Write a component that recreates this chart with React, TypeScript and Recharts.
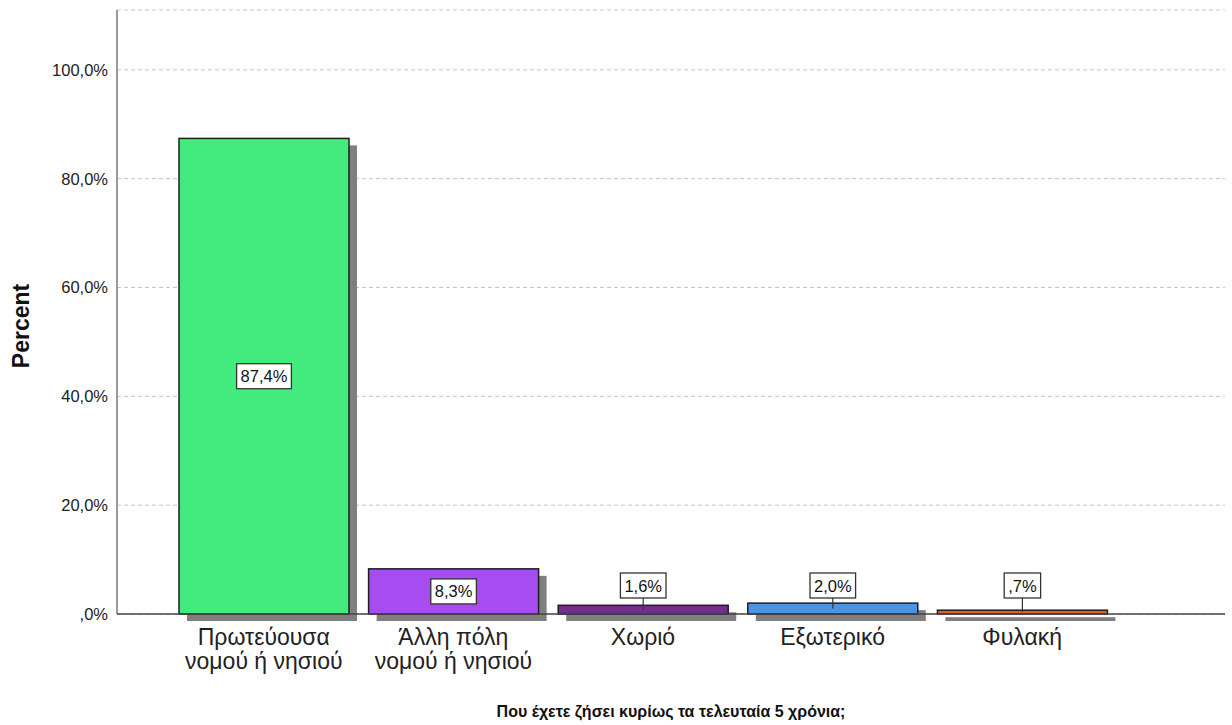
import { BarChart, Bar, XAxis, YAxis, CartesianGrid, LabelList } from 'recharts';

const categories = ['Πρωτεύουσα\nνομού ή νησιού', 'Άλλη πόλη\nνομού ή νησιού', 'Χωριό', 'Εξωτερικό', 'Φυλακή'];
const percents = [87.4, 8.3, 1.6, 2.0, 0.7];
const barColors = ['#43EA7D', '#A64CF0', '#702F8F', '#4C93E4', '#E0612A'];
const yTicks = [0, 20, 40, 60, 80, 100];

const data = categories.map((name, i) => ({ name, value: percents[i] }));

const FONT = '"Liberation Sans", Arial, sans-serif';

// SPSS style: comma decimals, no leading zero
const fmt = (v: number) => {
  const s = v.toFixed(1).replace('.', ',');
  return (s.startsWith('0') ? s.slice(1) : s) + '%';
};

const CHAR_W: Record<string, number> = { ',': 0.278, '%': 0.889 };
const textWidth = (s: string, size: number) =>
  s.split('').reduce((sum, c) => sum + (CHAR_W[c] ?? 0.556), 0) * size;

function ShadowBar(props: any) {
  const { x, y, width, height, index } = props;
  if (!height || height <= 0) return null;
  return (
    <g>
      <rect x={x + 8} y={y + 7} width={width} height={height} fill="#7f7f7f" />
      <rect x={x} y={y} width={width} height={height} fill={barColors[index]} stroke="#1e1e1e" strokeWidth={1.5} />
    </g>
  );
}

function ValueLabel(props: any) {
  const { x, y, width, height, value } = props;
  const text = fmt(Number(value));
  const w = textWidth(text, 16.5) + 8;
  const h = 25;
  const cx = x + width / 2;
  if (height > 30) {
    const cy = y + height / 2;
    return (
      <g>
        <rect x={cx - w / 2} y={cy - h / 2} width={w} height={h} fill="#fff" stroke="#333" strokeWidth={1.3} />
        <text x={cx} y={cy} dy={6} textAnchor="middle" fontFamily={FONT} fontSize={16.5} fill="#111">{text}</text>
      </g>
    );
  }
  const bottom = Math.min(y, y + height - 16);
  return (
    <g>
      <line x1={cx} x2={cx} y1={bottom} y2={y + height / 2} stroke="#333" strokeWidth={1.2} />
      <rect x={cx - w / 2} y={bottom - h} width={w} height={h} fill="#fff" stroke="#333" strokeWidth={1.3} />
      <text x={cx} y={bottom - h / 2} dy={6} textAnchor="middle" fontFamily={FONT} fontSize={16.5} fill="#111">{text}</text>
    </g>
  );
}

function CategoryTick({ x, y, payload }: any) {
  const lines = String(payload.value).split('\n');
  return (
    <text x={x} y={y} textAnchor="middle" fontFamily={FONT} fontSize={23} fill="#222">
      {lines.map((l, i) => (
        <tspan key={i} x={x} dy={i === 0 ? 23 : 24}>{l}</tspan>
      ))}
    </text>
  );
}

function XTitle({ viewBox }: any) {
  return (
    <text x={viewBox.x + viewBox.width / 2} y={viewBox.y + 103} textAnchor="middle" fontFamily={FONT} fontSize={16} fontWeight="bold" fill="#111">
      Που έχετε ζήσει κυρίως τα τελευταία 5 χρόνια;
    </text>
  );
}

function YTitle({ viewBox }: any) {
  const cy = viewBox.y + viewBox.height / 2 + 14;
  return (
    <text x={21} y={cy} transform={`rotate(-90 21 ${cy})`} textAnchor="middle" dominantBaseline="central" fontFamily={FONT} fontSize={23} fontWeight="bold" fill="#111">
      Percent
    </text>
  );
}

export default function App() {
  return (
    <div style={{ position: 'absolute', left: 0, top: 0, width: 1232, height: 725, background: '#fff' }}>
      <BarChart width={1232} height={725} data={data} margin={{ top: 10, right: 7, bottom: 0, left: 0 }}>
        <CartesianGrid vertical={false} stroke="#c4c4c4" strokeDasharray="4 3" />
        <YAxis
          width={117}
          domain={[0, 111]}
          ticks={yTicks}
          tickFormatter={fmt}
          tickLine={false}
          tickMargin={3}
          axisLine={{ stroke: '#9a9a9a', strokeWidth: 2 }}
          tick={{ fontFamily: FONT, fontSize: 16.5, fill: '#222' }}
          label={<YTitle />}
        />
        <XAxis
          dataKey="name"
          height={111}
          interval={0}
          padding={{ left: 52, right: 108 }}
          tickLine={false}
          axisLine={{ stroke: '#444', strokeWidth: 1.5 }}
          tick={<CategoryTick />}
          label={<XTitle />}
        />
        <Bar dataKey="value" barSize={170} shape={<ShadowBar />} isAnimationActive={false}>
          <LabelList dataKey="value" content={<ValueLabel />} />
        </Bar>
      </BarChart>
    </div>
  );
}
